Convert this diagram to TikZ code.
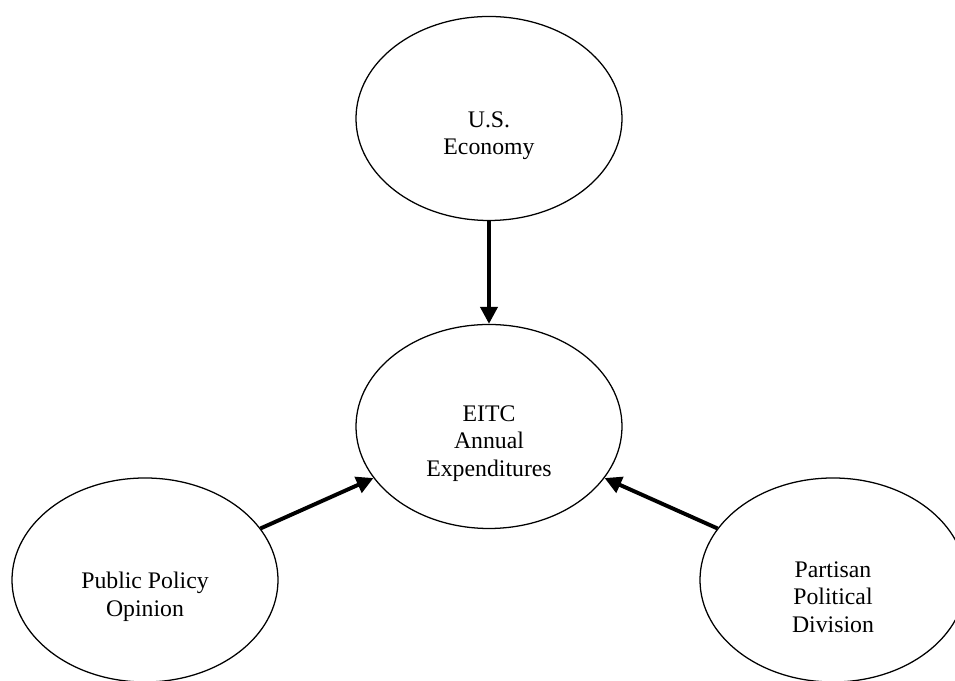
\documentclass[tikz,border=0pt]{standalone}
\usepackage{fontspec}
\setmainfont{Liberation Serif}
\usetikzlibrary{arrows.meta,shapes.geometric}

\begin{document}
\begin{tikzpicture}[
        x=0.025cm, y=0.025cm,
        bubble/.style={
            ellipse,
            draw=black,
            line width=0.9pt,
            minimum width=266*0.025cm,
            minimum height=204*0.025cm,
            inner sep=0pt
        },
        txt/.style={
            align=center,
            yshift=-17*0.025cm,
            font=\fontsize{16.9}{19.6}\selectfont
        },
        freccia/.style={
            line width=2.8pt,
            -{Triangle[length=12pt,width=12pt]}
        }
    ]
        \useasboundingbox (0,0) rectangle (955,681);

        % Ellissi: economia in alto, spesa EITC al centro, le due cause in basso
        \node[bubble, label={[txt]center:{U.S.\\Economy}}] (econ) at (489,562.5) {};
        \node[bubble, label={[txt]center:{EITC\\Annual\\Expenditures}}] (eitc) at (489,254.5) {};
        \node[bubble, label={[txt]center:{Public Policy\\Opinion}}] (opin) at (145,101) {};
        \node[bubble, label={[txt]center:{Partisan\\Political\\Division}}] (part) at (833,101) {};

        % Frecce verso il nodo centrale
        \foreach \src in {econ, opin, part} {
            \draw[freccia] (\src) -- (eitc);
        }
    \end{tikzpicture}
\end{document}
